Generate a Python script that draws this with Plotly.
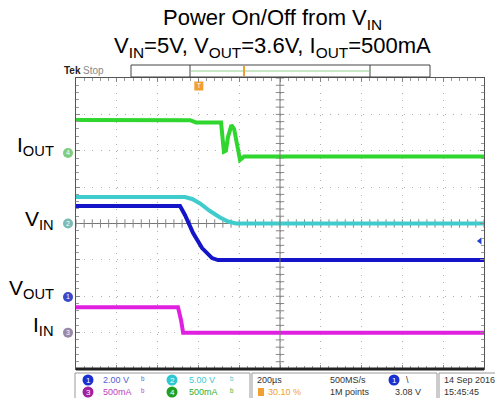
import plotly.graph_objects as go

# ---------------- data (read from the scope capture) ----------------
TIME_PER_DIV = 200          # µs / div
N_XDIV = 10
N_YDIV = 8
TRIGGER_POS_PCT = 30.10     # % of record
TRIGGER_LEVEL = 3.08        # V on ch1

# channel settings: scale per div, ground position (div)
ch_scale = {1: 2.0, 2: 5.0, 3: 0.5, 4: 0.5}
ch_offset = {1: -2.02, 2: 0.0, 3: -3.0, 4: 1.94}
ch_color = {1: "#1414c8", 2: "#40cccc", 3: "#e020e0", 4: "#2ed62e"}
ch_tag_color = {1: "#3a48c8", 2: "#7cbab4", 3: "#9a88a8", 4: "#80cc80"}

# ch1 (blue) volts
ch1_t = [0, 510, 534, 574, 618, 667, 696, 2000]
ch1_v = [5.00, 5.00, 4.51, 3.52, 2.69, 2.14, 2.03, 2.03]
# ch2 (cyan) volts
ch2_t = [0, 534, 569, 608, 657, 706, 745, 784, 2000]
ch2_v = [3.64, 3.64, 3.37, 2.75, 1.72, 0.82, 0.27, 0.0, 0.0]
# ch3 (magenta) amps
ch3_t = [0, 500, 515, 525, 2000]
ch3_i = [0.35, 0.35, 0.17, 0.0, 0.0]
# ch4 (green) amps
ch4_t = [0, 559, 588, 711, 725, 735, 745, 762, 775, 789, 804, 824, 2000]
ch4_i = [0.452, 0.45, 0.42, 0.417, 0.016, 0.03, 0.22, 0.383, 0.33, 0.12, -0.098, -0.05, -0.05]

side_labels = {4: "I<sub>OUT</sub>", 2: "V<sub>IN</sub>", 1: "V<sub>OUT</sub>", 3: "I<sub>IN</sub>"}

# ---------------- layout geometry ----------------
W, H = 495, 398
ML, MR, MT, MB = 76, 11, 78, 29
PW, PH = W - ML - MR, H - MT - MB
T_MAX = TIME_PER_DIV * N_XDIV


def px(x):
    return (x - ML) / PW


def py(y):
    return (H - MB - y) / PH


def to_div(ch, vals):
    return [v / ch_scale[ch] + ch_offset[ch] for v in vals]


def div_to_paper(d):
    return (d + N_YDIV / 2) / N_YDIV


fig = go.Figure()

# center-line tick marks
minor_t = [i * TIME_PER_DIV / 5 for i in range(N_XDIV * 5 + 1)]
minor_y = [-N_YDIV / 2 + i / 5 for i in range(N_YDIV * 5 + 1)]
fig.add_trace(go.Scatter(x=minor_t, y=[0] * len(minor_t), mode="markers",
                         marker=dict(symbol="line-ns-open", size=6, color="#888", line=dict(width=1, color="#888")),
                         hoverinfo="skip", showlegend=False))
fig.add_trace(go.Scatter(x=[T_MAX / 2] * len(minor_y), y=minor_y, mode="markers",
                         marker=dict(symbol="line-ew-open", size=6, color="#888", line=dict(width=1, color="#888")),
                         hoverinfo="skip", showlegend=False))

# waveforms
for ch, t, v in [(2, ch2_t, ch2_v), (1, ch1_t, ch1_v), (3, ch3_t, ch3_i), (4, ch4_t, ch4_i)]:
    fig.add_trace(go.Scatter(x=t, y=to_div(ch, v), mode="lines",
                             line=dict(color=ch_color[ch], width=4),
                             hoverinfo="skip", showlegend=False))

# trigger level marker (right) and trigger position marker (top)
fig.add_trace(go.Scatter(x=[T_MAX * 0.99], y=[TRIGGER_LEVEL / ch_scale[1] + ch_offset[1]],
                         mode="markers", marker=dict(symbol="triangle-left", size=6, color="#2040d0"),
                         cliponaxis=False, hoverinfo="skip", showlegend=False))
fig.add_trace(go.Scatter(x=[T_MAX * TRIGGER_POS_PCT / 100], y=[N_YDIV / 2 - 0.22],
                         mode="markers+text",
                         marker=dict(symbol="square", size=9, color="#f0a030"),
                         text=["T"], textposition="middle center",
                         textfont=dict(size=7, color="white"),
                         cliponaxis=False, hoverinfo="skip", showlegend=False))

shapes = []
# center vertical line
shapes.append(dict(type="line", xref="x", yref="paper", x0=T_MAX / 2, x1=T_MAX / 2, y0=0, y1=1,
                   line=dict(color="#777", width=1)))
# thick bottom border
shapes.append(dict(type="line", xref="paper", yref="paper", x0=0, x1=1, y0=0, y1=0,
                   line=dict(color="#222", width=3)))
# top record bar
shapes.append(dict(type="rect", xref="paper", yref="paper", x0=px(131), x1=px(430), y0=py(77), y1=py(65),
                   line=dict(color="#444", width=1), fillcolor="white"))
shapes.append(dict(type="line", xref="paper", yref="paper", x0=px(190), x1=px(190), y0=py(77), y1=py(65),
                   line=dict(color="#444", width=1)))
shapes.append(dict(type="line", xref="paper", yref="paper", x0=px(370), x1=px(370), y0=py(77), y1=py(65),
                   line=dict(color="#444", width=1)))
shapes.append(dict(type="line", xref="paper", yref="paper", x0=px(191), x1=px(369), y0=py(71), y1=py(71),
                   line=dict(color="#8fd08f", width=1)))
shapes.append(dict(type="line", xref="paper", yref="paper", x0=px(244), x1=px(244), y0=py(76), y1=py(66),
                   line=dict(color="#f0a030", width=2)))
# channel ground tags on the left edge
for ch in [4, 2, 1, 3]:
    yc = div_to_paper(ch_offset[ch])
    shapes.append(dict(type="circle", xref="paper", yref="paper", x0=px(63), x1=px(73),
                       y0=yc - 5 / PH, y1=yc + 5 / PH, line=dict(width=0), fillcolor=ch_tag_color[ch]))
# bottom info panels
for x0, x1 in [(75, 250), (252, 437), (439, 505)]:
    shapes.append(dict(type="rect", xref="paper", yref="paper", x0=px(x0), x1=px(x1), y0=py(402), y1=py(373),
                       line=dict(color="#999", width=1), fillcolor="white"))
# channel circles in info panel
for cx, cy, col in [(88, 380, "#1a30d0"), (88, 392, "#a020a0"), (172, 380, "#30c8d0"),
                    (172, 392, "#20a020"), (394, 380, "#1a30d0")]:
    shapes.append(dict(type="circle", xref="paper", yref="paper", x0=px(cx - 5.5), x1=px(cx + 5.5),
                       y0=py(cy + 5.5), y1=py(cy - 5.5), line=dict(width=0), fillcolor=col))
shapes.append(dict(type="rect", xref="paper", yref="paper", x0=px(258), x1=px(264), y0=py(396), y1=py(388),
                   line=dict(width=0), fillcolor="#f0a030"))

ann = []
FONT = "Liberation Sans, Arial, sans-serif"
NARROW = "Liberation Sans Narrow, Liberation Sans, Arial, sans-serif"
# title
ann.append(dict(text="Power On/Off from V<sub>IN</sub>", x=px(272), y=py(19), xref="paper", yref="paper",
                showarrow=False, font=dict(family=FONT, size=22, color="black"), xanchor="center", yanchor="middle"))
ann.append(dict(text="V<sub>IN</sub>=5V, V<sub>OUT</sub>=3.6V, I<sub>OUT</sub>=500mA", x=px(272), y=py(47),
                xref="paper", yref="paper", showarrow=False,
                font=dict(family=FONT, size=22, color="black"), xanchor="center", yanchor="middle"))
# side labels
label_y = {4: 146, 2: 220, 1: 289, 3: 326}
for ch, txt in side_labels.items():
    ann.append(dict(text=txt, x=px(56), y=py(label_y[ch]), xref="paper", yref="paper", showarrow=False,
                    font=dict(family=FONT, size=21, color="black"), xanchor="right", yanchor="middle"))
# channel tag numbers
for ch in [4, 2, 1, 3]:
    ann.append(dict(text=str(ch), x=px(68), y=div_to_paper(ch_offset[ch]), xref="paper", yref="paper",
                    showarrow=False, font=dict(family=FONT, size=7, color="white"),
                    xanchor="center", yanchor="middle"))
# Tek Stop
ann.append(dict(text="<b>Tek</b>", x=px(62), y=py(70), xref="paper", yref="paper", showarrow=False,
                font=dict(family=FONT, size=10, color="#222"), xanchor="left", yanchor="middle"))
ann.append(dict(text="Stop", x=px(81), y=py(70), xref="paper", yref="paper", showarrow=False,
                font=dict(family=NARROW, size=10, color="#888"), xanchor="left", yanchor="middle"))


def info(txt, x, y, color, anchor="left", size=9):
    ann.append(dict(text=txt, x=px(x), y=py(y), xref="paper", yref="paper", showarrow=False,
                    font=dict(family=NARROW, size=size, color=color), xanchor=anchor, yanchor="middle"))


info("1", 88, 380, "white", "center", 8)
info("3", 88, 392, "white", "center", 8)
info("2", 172, 380, "white", "center", 8)
info("4", 172, 392, "white", "center", 8)
info("1", 394, 380, "white", "center", 8)
info(f"{ch_scale[1]:.2f} V", 101, 380, "#5060d0")
info(f"{int(ch_scale[3]*1000)}mA", 101, 392, "#c040c0")
info(f"{ch_scale[2]:.2f} V", 187, 380, "#40c8d0")
info(f"{int(ch_scale[4]*1000)}mA", 187, 392, "#30b030")
for x, y, c in [(143, 380, "#5060d0"), (143, 392, "#c040c0"), (232, 380, "#40c8d0"), (232, 392, "#30b030")]:
    info("ᵇ", x, y, c, "center", 9)
info(f"{TIME_PER_DIV}µs", 255, 380, "#333")
info(f"{TRIGGER_POS_PCT:.2f} %", 266, 392, "#f0a030")
info("500MS/s", 328, 380, "#333")
info("1M points", 328, 392, "#333")
info("\\", 404, 380, "#333")
info(f"{TRIGGER_LEVEL:.2f} V", 393, 392, "#333")
info("14 Sep 2016", 442, 380, "#333")
info("15:45:45", 442, 392, "#333")

fig.update_layout(
    width=W, height=H, margin=dict(l=ML, r=MR, t=MT, b=MB),
    paper_bgcolor="white", plot_bgcolor="white",
    shapes=shapes, annotations=ann, showlegend=False,
    xaxis=dict(range=[0, T_MAX], dtick=TIME_PER_DIV, tick0=0, showgrid=True, gridcolor="#b0b0b0",
               griddash="1px,6.3px", gridwidth=1, zeroline=False, showticklabels=False,
               showline=True, linecolor="#555", linewidth=1, mirror="ticks",
               ticks="inside", ticklen=4, tickcolor="#888",
               minor=dict(dtick=TIME_PER_DIV / 5, ticks="inside", ticklen=3, tickcolor="#999", showgrid=False),
               fixedrange=True),
    yaxis=dict(range=[-N_YDIV / 2, N_YDIV / 2], dtick=1, tick0=0, showgrid=True, gridcolor="#b0b0b0",
               griddash="1px,7.2px", gridwidth=1, zeroline=True, zerolinecolor="#777", zerolinewidth=1,
               showticklabels=False, showline=True, linecolor="#555", linewidth=1, mirror="ticks",
               ticks="inside", ticklen=4, tickcolor="#888",
               minor=dict(dtick=0.2, ticks="inside", ticklen=3, tickcolor="#999", showgrid=False),
               fixedrange=True),
)

fig.write_html("out.html")
